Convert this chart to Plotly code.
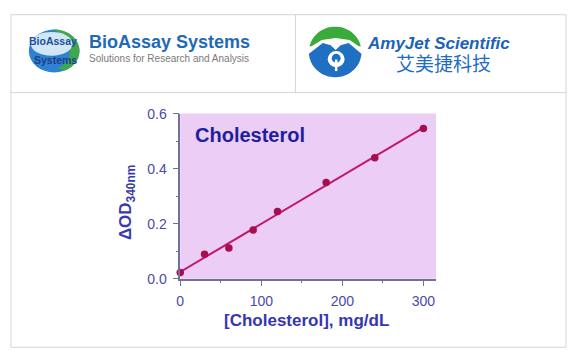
import numpy as np
import plotly.graph_objects as go

# ---------------- data ----------------
conc = [0, 30, 60, 90, 120, 180, 240, 300]          # mg/dL
od = [0.023, 0.089, 0.112, 0.177, 0.244, 0.350, 0.440, 0.546]
x_ticks = [0, 100, 200, 300]
x_minor = [50, 150, 250]
y_ticks = [0.0, 0.2, 0.4, 0.6]
y_minor = [0.1, 0.3, 0.5]

W, H = 574, 361
FONT = "Liberation Sans, Arial, sans-serif"


def px(x):
    return x / W


def py(y):
    return 1 - y / H


def path(points, close=True):
    s = "M " + " L ".join(f"{px(x):.5f},{py(y):.5f}" for x, y in points)
    return s + (" Z" if close else "")


def ell_arc(cx, cy, rx, ry, a0, a1, n=40):
    a = np.radians(np.linspace(a0, a1, n))
    return list(zip(cx + rx * np.cos(a), cy - ry * np.sin(a)))


slope, intercept = np.polyfit(conc, od, 1)
fit_x = [min(conc), max(conc)]
fit_y = [intercept + slope * v for v in fit_x]

fig = go.Figure()
fig.add_trace(go.Scatter(x=fit_x, y=fit_y, mode="lines",
                         line=dict(color="#c2186a", width=2),
                         hoverinfo="skip", cliponaxis=False, showlegend=False))
fig.add_trace(go.Scatter(x=conc, y=od, mode="markers",
                         marker=dict(color="#a50f50", size=7.5),
                         cliponaxis=False, showlegend=False))

axis_col = "#70709a"
tick_font = dict(family=FONT, size=14, color="#4a4aa8")

fig.update_layout(
    width=W, height=H, autosize=False,
    margin=dict(l=0, r=0, t=0, b=0),
    paper_bgcolor="white",
    plot_bgcolor="#ebcdf5",
    xaxis=dict(domain=[px(177.5), px(435)], range=[0, 315.5],
               showline=True, linecolor=axis_col, linewidth=1.5,
               ticks="outside", ticklen=6, tickcolor=axis_col, tickwidth=1.2,
               tickvals=x_ticks, tickfont=tick_font, ticklabelstandoff=3,
               showgrid=False, zeroline=False, fixedrange=True,
               minor=dict(tickvals=x_minor, ticks="outside", ticklen=3,
                          tickcolor=axis_col, showgrid=False)),
    yaxis=dict(domain=[py(283.3), py(110.5)], range=[0, 0.6],
               showline=True, linecolor=axis_col, linewidth=1.5,
               ticks="outside", ticklen=6, tickcolor=axis_col, tickwidth=1.2,
               tickvals=y_ticks, tickformat=".1f", tickfont=tick_font,
               ticklabelstandoff=3,
               showgrid=False, zeroline=False, fixedrange=True,
               minor=dict(tickvals=y_minor, ticks="outside", ticklen=3,
                          tickcolor=axis_col, showgrid=False)),
)

shapes = []
border = dict(color="#d6d6d6", width=1)
# table borders
shapes.append(dict(type="rect", xref="paper", yref="paper",
                   x0=px(7), x1=px(566), y0=py(355), y1=py(7), line=border))
shapes.append(dict(type="line", xref="paper", yref="paper",
                   x0=px(7), x1=px(566), y0=py(88.5), y1=py(88.5), line=border))
shapes.append(dict(type="line", xref="paper", yref="paper",
                   x0=px(293.5), x1=px(293.5), y0=py(7), y1=py(88.5), line=border))

# ---- BioAssay logo (ellipse) ----
cx, cy, rx, ry = 50.5, 45, 25.5, 22.5
shapes.append(dict(type="circle", xref="paper", yref="paper",
                   x0=px(cx - rx), x1=px(cx + rx), y0=py(cy + ry), y1=py(cy - ry),
                   fillcolor="#2f82d2", line=dict(width=0)))
green = ell_arc(cx, cy, rx, ry, 85, -65) + ell_arc(44.5, 44, 22, 21, -65, 85)
shapes.append(dict(type="path", xref="paper", yref="paper", path=path(green),
                   fillcolor="#3ea84e", line=dict(width=0)))
shapes.append(dict(type="circle", xref="paper", yref="paper",
                   x0=px(27), x1=px(69), y0=py(50), y1=py(25),
                   fillcolor="#e4f1f6", opacity=0.9, line=dict(width=0)))

# ---- AmyJet logo ----
acx, acy, ar = 333.5, 46, 26.5
sa = np.degrees(np.arcsin((acy - 40) / ar))
green2 = ell_arc(acx, acy, ar, ar, 180 - sa, sa) + [
    (acx + ar * np.cos(np.radians(sa)) - 2, 40), (348, 33.5), (334, 31.5),
    (320, 33.5), (acx - ar * np.cos(np.radians(sa)) + 2, 40)]
shapes.append(dict(type="path", xref="paper", yref="paper", path=path(green2),
                   fillcolor="#3aaa3a", line=dict(width=0)))
sb = np.degrees(np.arcsin((acy - 44) / ar))
blue2 = ell_arc(acx, acy, ar, ar, -sb, -180 + sb) + [
    (321, 36.5), (329, 39), (334, 44), (339, 39), (347, 36.5)]
shapes.append(dict(type="path", xref="paper", yref="paper", path=path(blue2),
                   fillcolor="#1f6fc2", line=dict(width=0)))
shapes.append(dict(type="circle", xref="paper", yref="paper",
                   x0=px(326), x1=px(343), y0=py(62), y1=py(45),
                   fillcolor="white", line=dict(width=0)))
shapes.append(dict(type="circle", xref="paper", yref="paper",
                   x0=px(330), x1=px(339), y0=py(57), y1=py(48),
                   fillcolor="#1f6fc2", line=dict(width=0)))
shapes.append(dict(type="line", xref="paper", yref="paper",
                   x0=px(334.5), x1=px(334.5), y0=py(66), y1=py(54),
                   line=dict(color="white", width=2.5)))

fig.update_layout(shapes=shapes)

ann = []


def text(t, x, y, size, color, xanchor="center", weight="normal",
         family=FONT, angle=0, style="normal"):
    ann.append(dict(text=t, x=px(x), y=py(y), xref="paper", yref="paper",
                    xanchor=xanchor, yanchor="middle", showarrow=False,
                    textangle=angle, borderpad=0,
                    font=dict(family=family, size=size, color=color,
                              weight=weight, style=style)))


# header texts
text("BioAssay", 49, 35, 10.5, "#1d4f9e", weight="bold")
text("Systems", 52, 54, 10.5, "#1b3f8a", weight="bold")
text("BioAssay Systems", 84.5, 36, 18, "#1f6ab8", xanchor="left", weight="bold")
text("Solutions for Research and Analysis", 85, 53, 10, "#7b7b7b", xanchor="left")
text("AmyJet Scientific", 365, 37.5, 17, "#1b63b8", xanchor="left",
     weight="bold", style="italic")
text("艾美捷科技", 442.5, 57.5, 19, "#1f6cc4",
     family="Noto Sans CJK SC, sans-serif")

# chart texts
text("Cholesterol", 191.5, 133, 20, "#1e1e9e", xanchor="left", weight="bold")
text("[Cholesterol], mg/dL", 305, 327, 17, "#3636b0", weight="bold")
text("ΔOD<sub>340nm</sub>", 124, 204, 17, "#3a3ab0", weight="bold", angle=-90)

fig.update_layout(annotations=ann)

# place the figure exactly at the window origin (no default body margin)
post = (
    "document.documentElement.style.margin='0';"
    "document.body.style.margin='0';"
    "document.body.style.padding='0';"
    "document.body.style.overflow='hidden';"
    "var gd=document.getElementById('{plot_id}');"
    "gd.style.position='fixed';gd.style.left='0px';gd.style.top='0px';"
    "gd.style.width='574px';gd.style.height='361px';"
    "Plotly.relayout(gd,{width:574,height:361,autosize:false});"
)
fig.write_html("out.html", config={"displayModeBar": False}, post_script=post)
